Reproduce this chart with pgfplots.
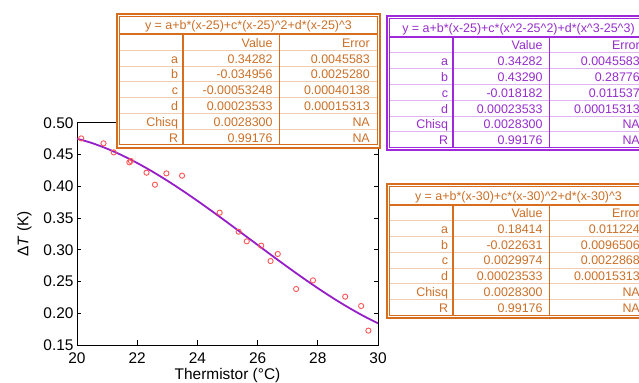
\documentclass[border=0pt]{standalone}
\usepackage{fontspec}
\setmainfont{Liberation Sans}
\usepackage{pgfplots}
\pgfplotsset{compat=1.18}
\definecolor{tabor}{RGB}{214,110,30}
\definecolor{taborT}{RGB}{204,112,40}
\definecolor{tabpu}{RGB}{160,40,220}
\definecolor{tabpuT}{RGB}{150,45,205}
\definecolor{fitpu}{RGB}{150,30,200}
\definecolor{ptred}{RGB}{255,85,85}

\newcommand{\drawtable}[6]{%
\begin{scope}[x=1bp,y=-1bp,yshift=383bp]
\begin{scope}[shift={(#1,#2)}]
\draw[#3, line width=2bp, fill=white] (0,0) rectangle (263,134);
\draw[#3, line width=1bp] (2.7,2.7) rectangle (260.3,131.3);
\foreach \k in {1,...,6}{\draw[#3!35, line width=0.9bp] (2.7,20.8+15.8*\k) -- (260.3,20.8+15.8*\k);}
\draw[#3, line width=2bp] (2.7,20.8) -- (260.3,20.8);
\draw[#3, line width=2.2bp] (66.3,20.8) -- (66.3,131.3);
\draw[#3, line width=1.6bp] (162.3,20.8) -- (162.3,131.3);
\node[#4, inner sep=0pt, anchor=base] at (131.5,16.2) {\fontsize{12.5}{14}\selectfont #5};
\node[#4, inner sep=0pt, anchor=base east] at (155.8,33.6) {\fontsize{12.5}{14}\selectfont Value};
\node[#4, inner sep=0pt, anchor=base east] at (253,33.6) {\fontsize{12.5}{14}\selectfont Error};
\foreach \lab/\val/\err [count=\i] in {#6}{
  \node[#4, inner sep=0pt, anchor=base east] at (61.3,33.6+15.8*\i) {\fontsize{12.5}{14}\selectfont \lab};
  \node[#4, inner sep=0pt, anchor=base east] at (155.8,33.6+15.8*\i) {\fontsize{12.5}{14}\selectfont \val};
  \node[#4, inner sep=0pt, anchor=base east] at (253,33.6+15.8*\i) {\fontsize{12.5}{14}\selectfont \err};
}
\end{scope}
\end{scope}}
\newcommand{\ca}{\textasciicircum}

\begin{document}
\begin{tikzpicture}
\path[use as bounding box] (0,0) rectangle (639bp,383bp);
\clip (0,0) rectangle (639bp,383bp);
\begin{axis}[
  at={(77bp,38bp)}, anchor=south west,
  scale only axis, width=301bp, height=222.3bp,
  xmin=20, xmax=30, ymin=0.15, ymax=0.50,
  xtick={20,22,24,26,28,30},
  ytick={0.15,0.20,0.25,0.30,0.35,0.40,0.45,0.50},
  yticklabel style={/pgf/number format/fixed, /pgf/number format/fixed zerofill, /pgf/number format/precision=2},
  xticklabel style={yshift=-4bp},
  /pgf/number format/assume math mode=true,
  tick align=inside, tick pos=both,
  major tick length=4.5bp,
  axis line style={black, line width=0.9bp},
  tick style={black, line width=0.9bp},
  ticklabel style={font=\fontsize{15.5}{18}\selectfont},
  label style={font=\fontsize{15.5}{18}\selectfont},
  xlabel={Thermistor (°C)},
  ylabel={Δ\textit{T} (K)},
  xlabel style={yshift=2bp},
  ylabel style={yshift=5bp},
]
\addplot[fitpu, line width=1.8bp, smooth, no marks] coordinates {
(20,0.47487) (20.5,0.46790) (21,0.45906) (21.5,0.44857) (22,0.43654) (22.5,0.42321) (23,0.40872) (23.5,0.39326) (24,0.37701) (24.5,0.36014) (25,0.34282) (25.5,0.32524) (26,0.30757) (26.5,0.28998) (27,0.27266) (27.5,0.25578) (28,0.23951) (28.5,0.22404) (29,0.20954) (29.5,0.19618) (30,0.18414)
};
\addplot[only marks, mark=o, mark size=2.6bp, mark options={ptred, line width=0.9bp}] coordinates {
(20.14,0.4753) (20.88,0.4675) (21.22,0.4533) (21.74,0.4376) (21.79,0.4397) (22.31,0.4213) (22.59,0.4024) (22.97,0.4202) (23.49,0.4166) (24.74,0.3583) (25.37,0.3284) (25.64,0.3132) (26.12,0.3064) (26.43,0.2822) (26.67,0.2933) (27.28,0.2382) (27.84,0.2518) (28.91,0.2261) (29.44,0.2114) (29.68,0.1726)
};
\end{axis}
\drawtable{117}{13.7}{tabor}{taborT}{y = a+b*(x-25)+c*(x-25)\ca2+d*(x-25)\ca3}{a/0.34282/0.0045583, b/-0.034956/0.0025280, c/-0.00053248/0.00040138, d/0.00023533/0.00015313, Chisq/0.0028300/NA, R/0.99176/NA}
\drawtable{387}{16.3}{tabpu}{tabpuT}{y = a+b*(x-25)+c*(x\ca2-25\ca2)+d*(x\ca3-25\ca3)}{a/0.34282/0.0045583, b/0.43290/0.28776, c/-0.018182/0.011537, d/0.00023533/0.00015313, Chisq/0.0028300/NA, R/0.99176/NA}
\drawtable{387}{184}{tabor}{taborT}{y = a+b*(x-30)+c*(x-30)\ca2+d*(x-30)\ca3}{a/0.18414/0.011224, b/-0.022631/0.0096506, c/0.0029974/0.0022868, d/0.00023533/0.00015313, Chisq/0.0028300/NA, R/0.99176/NA}
\end{tikzpicture}
\end{document}
